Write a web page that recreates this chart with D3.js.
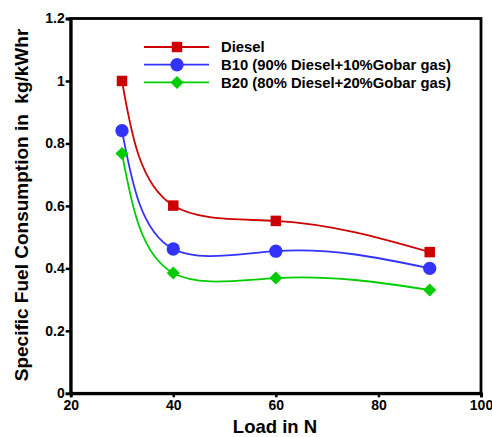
<!DOCTYPE html>
<html lang="en">
<head>
  <meta charset="UTF-8">
  <title>Specific Fuel Consumption vs Load</title>
  <script src="https://d3js.org/d3.v7.min.js"></script>
  <style>
    body { margin: 0; background: #fff; }
    text { font-family: "Liberation Sans", Arial, sans-serif; font-weight: bold; }
  </style>
</head>
<body>
  <svg width="492" height="437"></svg>
  <script>
    const loads = [30, 40, 60, 90];
    const diesel = [1.0, 0.601, 0.552, 0.452];
    const b10 = [0.841, 0.462, 0.455, 0.40];
    const b20 = [0.768, 0.385, 0.369, 0.331];
    const xTicks = [20, 40, 60, 80, 100];
    const yTicks = [0, 0.2, 0.4, 0.6, 0.8, 1, 1.2];

    const series = [
      { name: "Diesel", values: diesel, color: "#cc0000", shape: "square" },
      { name: "B10 (90% Diesel+10%Gobar gas)", values: b10, color: "#3333ff", shape: "circle" },
      { name: "B20 (80% Diesel+20%Gobar gas)", values: b20, color: "#00cc00", shape: "diamond" }
    ];

    // natural cubic spline, parametrised by chord length (smooth like the original plot)
    function curveChordNatural(context) {
      let xs, ys;
      return {
        areaStart() {}, areaEnd() {},
        lineStart() { xs = []; ys = []; },
        point(x, y) { xs.push(+x); ys.push(+y); },
        lineEnd() {
          const n = xs.length;
          if (!n) return;
          context.moveTo(xs[0], ys[0]);
          if (n === 1) return;
          const h = [];
          for (let i = 0; i < n - 1; i++) h.push(Math.hypot(xs[i + 1] - xs[i], ys[i + 1] - ys[i]) || 1e-6);
          const second = p => {
            const M = new Array(n).fill(0);
            if (n < 3) return M;
            const m = n - 2, a = [], b = [], c = [], r = [];
            for (let i = 1; i < n - 1; i++) {
              a.push(h[i - 1]); b.push(2 * (h[i - 1] + h[i])); c.push(h[i]);
              r.push(6 * ((p[i + 1] - p[i]) / h[i] - (p[i] - p[i - 1]) / h[i - 1]));
            }
            for (let i = 1; i < m; i++) {
              const w = a[i] / b[i - 1];
              b[i] -= w * c[i - 1]; r[i] -= w * r[i - 1];
            }
            const s = new Array(m);
            s[m - 1] = r[m - 1] / b[m - 1];
            for (let i = m - 2; i >= 0; i--) s[i] = (r[i] - c[i] * s[i + 1]) / b[i];
            for (let i = 0; i < m; i++) M[i + 1] = s[i];
            return M;
          };
          const Mx = second(xs), My = second(ys);
          for (let i = 0; i < n - 1; i++) {
            const d0 = (p, M) => (p[i + 1] - p[i]) / h[i] - h[i] * (2 * M[i] + M[i + 1]) / 6;
            const d1 = (p, M) => (p[i + 1] - p[i]) / h[i] + h[i] * (M[i] + 2 * M[i + 1]) / 6;
            context.bezierCurveTo(
              xs[i] + d0(xs, Mx) * h[i] / 3, ys[i] + d0(ys, My) * h[i] / 3,
              xs[i + 1] - d1(xs, Mx) * h[i] / 3, ys[i + 1] - d1(ys, My) * h[i] / 3,
              xs[i + 1], ys[i + 1]);
          }
        }
      };
    }

    const svg = d3.select("svg");
    const x = d3.scaleLinear().domain([20, 100]).range([70.7, 481]);
    const y = d3.scaleLinear().domain([0, 1.2]).range([393.3, 18.5]);

    // frame
    svg.append("rect")
      .attr("x", 70.7).attr("y", 18.5)
      .attr("width", 410.3).attr("height", 374.8)
      .attr("fill", "none").attr("stroke", "#000").attr("stroke-width", 2.8);

    const xAxis = svg.append("g")
      .attr("transform", "translate(0,393.3)")
      .call(d3.axisBottom(x).tickValues(xTicks).tickSize(4).tickFormat(d3.format("d")));
    const yAxis = svg.append("g")
      .attr("transform", "translate(70.7,0)")
      .call(d3.axisLeft(y).tickValues(yTicks).tickSize(5).tickFormat(d => d));
    [xAxis, yAxis].forEach(a => {
      a.select(".domain").attr("stroke-width", 2.8);
      a.selectAll(".tick line").attr("stroke-width", 2.5);
      a.selectAll("text").attr("font-size", 14).attr("fill", "#000")
        .style("font-family", "'Liberation Sans', Arial, sans-serif").style("font-weight", "bold");
    });
    xAxis.selectAll("text").attr("y", 7).attr("dy", "0.71em");
    yAxis.selectAll("text").attr("x", -6);

    const line = d3.line()
      .x((d, i) => x(loads[i]))
      .y(d => y(d))
      .curve(curveChordNatural);

    const symbolFor = {
      square: d3.symbol().type(d3.symbolSquare).size(110),
      circle: d3.symbol().type(d3.symbolCircle).size(140),
      diamond: d3.symbol().type(d3.symbolSquare).size(85)
    };
    const rot = shape => shape === "diamond" ? " rotate(45)" : "";

    series.forEach(s => {
      svg.append("path")
        .attr("d", line(s.values))
        .attr("fill", "none").attr("stroke", s.color).attr("stroke-width", 1.8);
      svg.selectAll(null).data(s.values).enter().append("path")
        .attr("d", symbolFor[s.shape]())
        .attr("transform", (d, i) => `translate(${x(loads[i])},${y(d)})${rot(s.shape)}`)
        .attr("fill", s.color);
    });

    // legend
    const legend = svg.append("g");
    series.forEach((s, i) => {
      const ly = 47 + i * 17.7;
      legend.append("line").attr("x1", 144).attr("x2", 209).attr("y1", ly).attr("y2", ly)
        .attr("stroke", s.color).attr("stroke-width", 1.8);
      legend.append("path").attr("d", symbolFor[s.shape]())
        .attr("transform", `translate(177,${ly})${rot(s.shape)}`).attr("fill", s.color);
      legend.append("text").attr("x", 221).attr("y", ly).attr("dy", "0.36em")
        .attr("font-size", 14.8).text(s.name);
    });

    svg.append("text")
      .attr("x", 275).attr("y", 433)
      .attr("text-anchor", "middle").attr("font-size", 18.5)
      .text("Load in N");
    svg.append("text")
      .attr("transform", "translate(28,205) rotate(-90)")
      .attr("text-anchor", "middle").attr("font-size", 19)
      .style("white-space", "pre")
      .text("Specific Fuel Consumption in  kg/kWhr");
  </script>
</body>
</html>
